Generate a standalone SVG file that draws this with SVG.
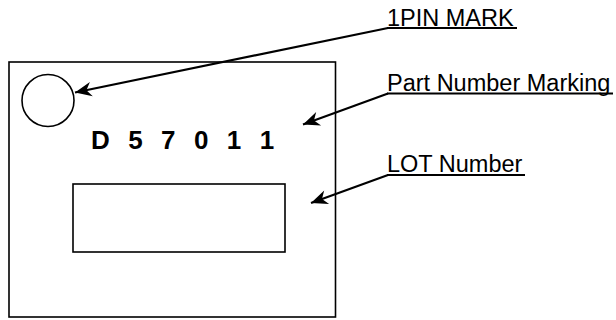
<svg xmlns="http://www.w3.org/2000/svg" width="616" height="320" viewBox="0 0 616 320">
<style>
.box{fill:none;stroke:#000;stroke-width:1.6}
.lbl{font-family:"Liberation Sans",Arial,sans-serif;font-size:23.5px;fill:#000}
.pn{font-family:"Liberation Sans",Arial,sans-serif;font-size:26px;font-weight:bold;fill:#000;letter-spacing:5.6px}
.ul{stroke:#000;stroke-width:2}
.ld{stroke:#000;stroke-width:2.2;fill:none}
</style>
<defs>
<marker id="ah" markerUnits="userSpaceOnUse" markerWidth="20" markerHeight="20" viewBox="-16 -8 18 16" refX="0" refY="0" orient="auto">
<path d="M0,0 L-15,-6.5 L-10.5,0 L-15,6.5 Z" fill="#000"/>
</marker>
</defs>
<rect fill="#fff" width="616" height="320"/>
<g id="chip">
<rect class="box" x="9" y="62" width="326.5" height="255"/>
</g>
<g id="pin-mark">
<circle class="box" cx="48" cy="100.5" r="26"/>
</g>
<g id="part-number">
<text class="pn" x="91" y="149">D 5 7 0 1 1</text>
</g>
<g id="lot-box">
<rect class="box" x="73" y="184" width="212" height="68"/>
</g>
<g id="label-1pin">
<text class="lbl" x="387" y="25.5">1PIN MARK</text>
<line class="ul" x1="387" y1="28" x2="517" y2="28"/>
</g>
<g id="label-part">
<text class="lbl" x="387" y="90.5">Part Number Marking</text>
<line class="ul" x1="387" y1="93.5" x2="613" y2="93.5"/>
</g>
<g id="label-lot">
<text class="lbl" x="387" y="172">LOT Number</text>
<line class="ul" x1="387" y1="175" x2="525" y2="175"/>
</g>
<g id="connectors">
<line class="ld" x1="388" y1="28" x2="75" y2="92.5" marker-end="url(#ah)"/>
<line class="ld" x1="388" y1="93.5" x2="303" y2="124.5" marker-end="url(#ah)"/>
<line class="ld" x1="388" y1="175" x2="311" y2="203" marker-end="url(#ah)"/>
</g>
</svg>
